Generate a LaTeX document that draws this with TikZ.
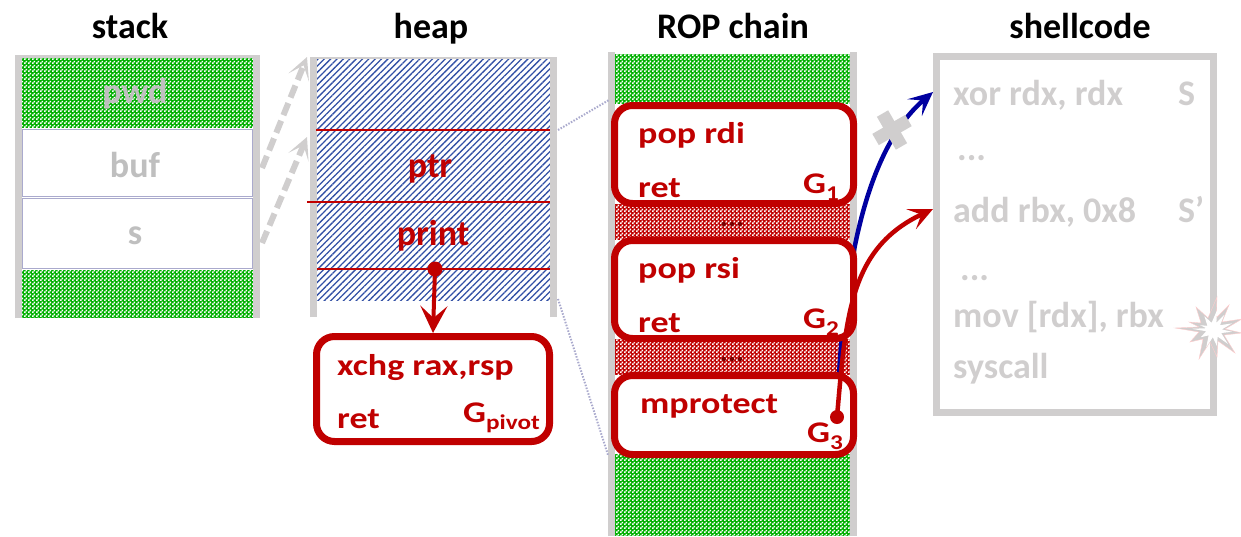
\documentclass[tikz,border=0pt]{standalone}
\usepackage{fontspec}
\setmainfont{Carlito}
\newfontfamily\bxf{Carlito}[FakeStretch=1.2]
\usetikzlibrary{arrows.meta,patterns,patterns.meta}
\definecolor{cred}{RGB}{192,0,0}
\definecolor{cdred}{RGB}{120,0,0}
\definecolor{cgreen}{RGB}{0,176,0}
\definecolor{cgray}{RGB}{208,206,206}
\definecolor{clabel}{RGB}{191,191,191}
\definecolor{cblue}{RGB}{0,0,160}
\definecolor{chatch}{RGB}{50,80,165}
\definecolor{cdot}{RGB}{170,170,205}
\pgfdeclarepatternformonly{checker}{\pgfqpoint{0pt}{0pt}}{\pgfqpoint{4pt}{4pt}}{\pgfqpoint{4pt}{4pt}}{%
  \pgfpathrectangle{\pgfqpoint{0pt}{0pt}}{\pgfqpoint{2pt}{2pt}}%
  \pgfpathrectangle{\pgfqpoint{2pt}{2pt}}{\pgfqpoint{2pt}{2pt}}%
  \pgfusepath{fill}}
\newcommand\Gsub[1]{G\raisebox{-7pt}{\fontsize{21}{21}\selectfont #1}}
\begin{document}
\begin{tikzpicture}[x=1pt,y=-1pt,
  title/.style={font=\fontsize{36}{40}\selectfont\bfseries, anchor=base, inner sep=0pt},
  lbl/.style={font=\fontsize{36}{40}\selectfont\bfseries, text=clabel, anchor=base, inner sep=0pt},
  hlbl/.style={font=\fontsize{36}{40}\selectfont\bfseries, text=cred, anchor=base, inner sep=0pt},
  code/.style={font=\bxf\bfseries\fontsize{30}{34}\selectfont, text=cred, anchor=base west, inner sep=0pt},
  shc/.style={font=\fontsize{36}{40}\selectfont\bfseries, text=cgray, anchor=base west, inner sep=0pt},
  ell/.style={font=\fontsize{30}{34}\selectfont\bfseries, text=cdred, anchor=base, inner sep=0pt},
  cellbase/.style={rectangle, inner sep=0pt, outer sep=0pt, minimum width=231pt},
  greencell/.style={cellbase, preaction={fill=cgreen}, pattern=checker, pattern color=white},
  redcell/.style={cellbase, preaction={fill=cred}, pattern=checker, pattern color=white},
  whitecell/.style={cellbase, fill=white, draw=cdot, line width=1.5pt},
  hatchcell/.style={rectangle, inner sep=0pt, outer sep=0pt, pattern={Lines[angle=45,distance=4.5pt,line width=1.3pt]}, pattern color=chatch},
  wall/.style={draw=cgray, line width=7pt},
  thinwall/.style={draw=cgray, line width=2.5pt},
  gadget/.style={rectangle, draw=cred, line width=7pt, fill=white, rounded corners=18pt, inner sep=0pt},
  sepline/.style={draw=cred, line width=2.5pt},
  ptrarrow/.style={draw=cgray, line width=6pt, dash pattern=on 13pt off 6pt, -{Stealth[length=22pt,width=22pt,inset=13pt]}},
  zoomline/.style={draw=cdot, line width=2pt, dash pattern=on 1.5pt off 1.5pt},
  flowred/.style={draw=cred, line width=4.5pt, -{Stealth[length=24pt,width=22pt,inset=11pt]}},
  flowblue/.style={draw=cblue, line width=4.5pt, -{Stealth[length=24pt,width=22pt,inset=11pt]}},
  dotnode/.style={circle, fill=cred, inner sep=0pt, minimum size=15pt}
]
\useasboundingbox (0,0) rectangle (1241,536);

% ---------------- titles
\node[title] (tstack) at (130,38) {stack};
\node[title] (theap) at (431,38) {heap};
\node[title] (trop) at (733,38) {ROP chain};
\node[title] (tshell) at (1080,38) {shellcode};

% ---------------- stack
\node[greencell, minimum height=70pt] (pwdcell) at (137.5,93) {};
\node[whitecell, minimum height=67pt] (bufcell) at (137.5,163) {};
\node[whitecell, minimum height=70pt] (scell) at (137.5,233.5) {};
\node[greencell, minimum height=48pt] (stackbot) at (137.5,294) {};
\draw[wall] (18.5,318) -- (18.5,55);
\draw[wall] (256.5,318) -- (256.5,55);
\draw[thinwall] (15,56.5) -- (260,56.5);
\node[lbl] (pwdlbl) at (135,103) {pwd};
\node[lbl] (buflbl) at (135,177) {buf};
\node[lbl] (slbl) at (135,244) {s};

% ---------------- heap
\node[hatchcell, minimum width=233pt, minimum height=242pt] (heapfill) at (433.5,179) {};
\draw[wall] (313.5,317) -- (313.5,57);
\draw[wall] (553.5,317) -- (553.5,57);
\draw[draw=cgray, line width=2pt] (313,57.5) -- (554,57.5);
\draw[sepline] (316,130) -- (550,130);
\draw[sepline] (307,202) -- (550,202);
\draw[sepline] (317,269) -- (550,269);
\node[hlbl] (ptrlbl) at (430,177) {ptr};
\node[hlbl] (printlbl) at (433,245) {print};

% stack -> heap pointers
\coordinate (p1s) at (262,168);
\coordinate (p1e) at (307,57);
\coordinate (p2s) at (262,243);
\coordinate (p2e) at (307,137);
\draw[ptrarrow] (p1s) -- (p1e);
\draw[ptrarrow] (p2s) -- (p2e);

% pivot gadget
\node[gadget, minimum width=233pt, minimum height=105pt] (gpivot) at (433,389) {};
\node[code] (pivot1) at (337,375) {xchg rax,rsp};
\node[code] (pivot2) at (337,428) {ret};
\node[code] (pivotg) at (463,422) {\Gsub{pivot}};
\node[dotnode] (printdot) at (435,269) {};
\draw[draw=cred, line width=4pt, -{Stealth[length=27pt,width=27pt,inset=12pt]}] (printdot.center) -- (gpivot.north);

% ---------------- ROP chain
\node[greencell, minimum width=235pt, minimum height=50pt] (ropgtop) at (732.5,79) {};
\node[redcell, minimum width=235pt, minimum height=36pt] (ropr1) at (732.5,222) {};
\node[redcell, minimum width=235pt, minimum height=36pt] (ropr2) at (732.5,357) {};
\node[greencell, minimum width=235pt, minimum height=82pt] (ropgbot) at (732.5,495) {};
\draw[wall] (611.5,536) -- (611.5,52);
\draw[wall] (853.5,536) -- (853.5,52);
\node[ell] (dots1) at (732,226) {...};
\node[ell] (dots2) at (732,361) {...};

% zoom lines heap -> ROP
\coordinate (z1s) at (558,130);
\coordinate (z1e) at (609,100);
\coordinate (z2s) at (558,299);
\coordinate (z2e) at (608,455);
\draw[zoomline] (z1s) -- (z1e);
\draw[zoomline] (z2s) -- (z2e);

% shellcode targets
\coordinate (sc1) at (933,92);
\coordinate (sc2) at (933,209);
\coordinate (g3pt) at (837,417);

% blue flow (behind gadgets)
\draw[flowblue] (g3pt) .. controls (842,270) and (865,150) .. (sc1);

% gadgets
\node[gadget, minimum width=239pt, minimum height=98pt] (g1) at (734,154.5) {};
\node[gadget, minimum width=239pt, minimum height=98pt] (g2) at (734,289.5) {};
\node[gadget, minimum width=239pt, minimum height=79pt] (g3) at (734,415) {};
\node[code] (g1a) at (638,143) {pop rdi};
\node[code] (g1b) at (638,197) {ret};
\node[code] (g1g) at (803,193) {\Gsub{1}};
\node[code] (g2a) at (638,278) {pop rsi};
\node[code] (g2b) at (638,332) {ret};
\node[code] (g2g) at (803,328) {\Gsub{2}};
\node[code] (g3a) at (640,413) {mprotect};
\node[code] (g3g) at (807,442) {\Gsub{3}};

% red flow
\draw[flowred] (g3pt) .. controls (846,314) and (850,248) .. (sc2);
\node[dotnode, minimum size=14pt] (g3dot) at (g3pt) {};

% blocked mark
\begin{scope}[shift={(892,130)}, rotate=30]
  \fill[cgray] (-19,-6.5) rectangle (19,6.5);
  \fill[cgray] (-6.5,-19) rectangle (6.5,19);
\end{scope}

% ---------------- shellcode
\node[rectangle, draw=cgray, line width=7pt, minimum width=277pt, minimum height=356pt, inner sep=0pt] (shell) at (1075,234.5) {};
\node[shc] (s1) at (953,105) {xor rdx, rdx};
\node[shc] (s1l) at (1178,105) {S};
\node[shc] (s2) at (957,160) {...};
\node[shc] (s3) at (953,222) {add rbx, 0x8};
\node[shc] (s3l) at (1178,222) {S’};
\node[shc] (s4) at (960,280) {...};
\node[shc] (s5) at (953,327) {mov [rdx], rbx};
\node[shc] (s6) at (953,378) {syscall};

% explosion
\begin{scope}[shift={(1212,330)}]
  \filldraw[fill=cgray, draw=red!20, line width=0.4pt]
    (-37,-2) -- (-13,2) -- (-22,12) -- (-9,9) -- (-13,29) -- (-2,12) -- (5,27) -- (6,11) -- (23,23) -- (12,5) -- (30,3) -- (13,-1) -- (30,-11) -- (10,-8) -- (17,-25) -- (4,-12) -- (5,-33) -- (-4,-12) -- (-16,-23) -- (-11,-7) -- (-23,-8) -- (-13,-3) -- cycle;
\end{scope}
\begin{scope}[shift={(1214,330)}, scale=0.6]
  \fill[white]
    (-37,-2) -- (-13,2) -- (-22,12) -- (-9,9) -- (-13,29) -- (-2,12) -- (5,27) -- (6,11) -- (23,23) -- (12,5) -- (30,3) -- (13,-1) -- (30,-11) -- (10,-8) -- (17,-25) -- (4,-12) -- (5,-33) -- (-4,-12) -- (-16,-23) -- (-11,-7) -- (-23,-8) -- (-13,-3) -- cycle;
\end{scope}
\end{tikzpicture}
\end{document}
